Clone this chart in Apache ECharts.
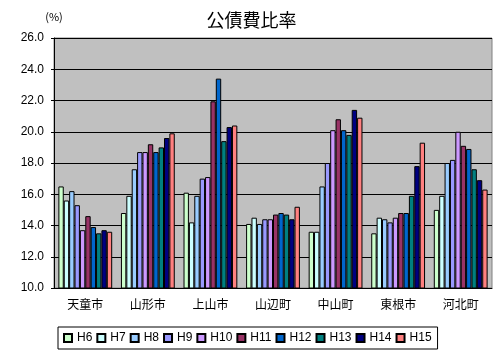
<!DOCTYPE html>
<html><head><meta charset="utf-8">
<script src="https://cdn.jsdelivr.net/npm/echarts@6/dist/echarts.min.js"></script>
<style>html,body{margin:0;padding:0;background:#fff}#c{width:503px;height:355px}</style>
</head><body><div id="c"></div>
<script>
const categories = ['天童市','山形市','上山市','山辺町','中山町','東根市','河北町'];
const seriesNames = ['H6','H7','H8','H9','H10','H11','H12','H13','H14','H15'];
const H6  = [16.5, 14.8, 16.1, 14.1, 13.6, 13.5, 15.0];
const H7  = [15.6, 15.9, 14.2, 14.5, 13.6, 14.5, 15.9];
const H8  = [16.2, 17.6, 15.9, 14.1, 16.5, 14.4, 18.0];
const H9  = [15.3, 18.7, 17.0, 14.4, 18.0, 14.2, 18.2];
const H10 = [13.7, 18.7, 17.1, 14.4, 20.1, 14.5, 20.0];
const H11 = [14.6, 19.2, 21.95, 14.7, 20.8, 14.8, 19.1];
const H12 = [13.9, 18.7, 23.4, 14.8, 20.1, 14.8, 18.9];
const H13 = [13.5, 19.0, 19.4, 14.7, 19.8, 15.9, 17.6];
const H14 = [13.7, 19.6, 20.3, 14.4, 21.4, 17.8, 16.9];
const H15 = [13.6, 19.9, 20.4, 15.2, 20.9, 19.3, 16.3];
const seriesData = [H6,H7,H8,H9,H10,H11,H12,H13,H14,H15];
const colors = ['#CCFFCC','#CCFFFF','#99CCFF','#9999FF','#CC99FF','#993366','#0066CC','#008080','#000080','#FF8080'];
const yTicks = {min:10, max:26, interval:2};

const font = 'Liberation Sans, Arial, Noto Sans CJK JP, sans-serif';
const chart = echarts.init(document.getElementById('c'), null, {renderer:'canvas'});
chart.setOption({
  animation:false,
  backgroundColor:'#ffffff',
  title:{text:'公債費比率', left:'center', top:6,
    textStyle:{fontFamily:'Noto Sans CJK JP', fontSize:18, fontWeight:'normal', color:'#000'}},
  legend:{
    data:seriesNames, left:58, top:327,
    itemWidth:8, itemHeight:8, itemGap:4,
    padding:[5,6,5,5],
    borderColor:'#000', borderWidth:1, borderRadius:0,
    textStyle:{fontFamily:font, fontSize:12, color:'#000'},
    icon:'rect'
  },
  grid:{left:54, right:11, top:38, bottom:67, show:true, backgroundColor:'#C0C0C0', borderColor:'#808080', borderWidth:1},
  xAxis:{type:'category', data:categories,
    axisLine:{lineStyle:{color:'#000'}},
    axisTick:{inside:true, length:4, lineStyle:{color:'#000'}},
    axisLabel:{fontFamily:'Noto Sans CJK JP', fontSize:12, color:'#000', margin:10}},
  yAxis:{type:'value', min:yTicks.min, max:yTicks.max, interval:yTicks.interval,
    name:'(%)', nameLocation:'end', nameGap:16,
    nameTextStyle:{fontFamily:'Noto Sans CJK JP', fontSize:11, color:'#000', align:'center'},
    axisLine:{show:true, lineStyle:{color:'#000'}},
    axisTick:{show:true, length:3, lineStyle:{color:'#000'}},
    splitLine:{lineStyle:{color:'#000', width:1}},
    axisLabel:{fontFamily:font, fontSize:12, color:'#000', margin:10, formatter:v=>v.toFixed(1)}},
  series: seriesNames.map((n,i)=>({
    name:n, type:'bar', data:seriesData[i],
    barGap:'0%', barCategoryGap:'14%',
    itemStyle:{color:colors[i], borderColor:'#000', borderWidth:1}
  }))
});
</script></body></html>
